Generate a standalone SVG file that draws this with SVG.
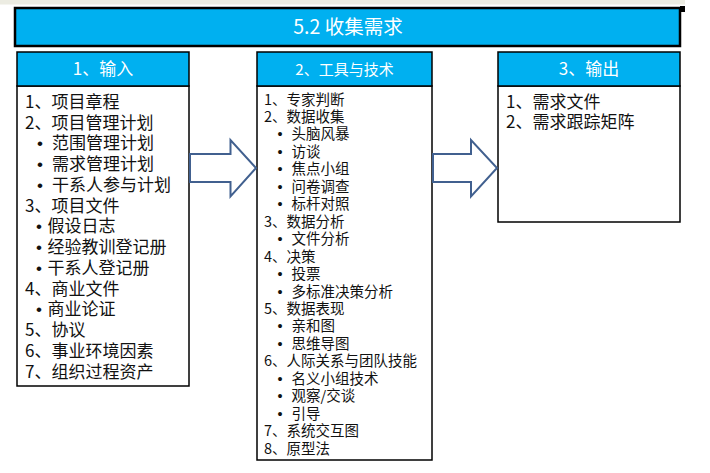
<svg xmlns="http://www.w3.org/2000/svg" width="710" height="473" viewBox="0 0 710 473">
<style>
.hdr{fill:#00B0F0;stroke:#000;stroke-width:1.5}
.body{fill:#fff;stroke:#000;stroke-width:1.5}
.t{font-family:"Noto Sans CJK SC","Microsoft YaHei",sans-serif;fill:#111}
.w{font-family:"Noto Sans CJK SC","Microsoft YaHei",sans-serif;fill:#fff;text-anchor:middle}
.l{font-size:17px}
.s{font-size:14.5px}
.b{font-family:"Liberation Sans",Arial,sans-serif}
.arr{fill:#fff;stroke:#41608F;stroke-width:2;stroke-linejoin:miter}
</style>
<rect x="0" y="0" width="685" height="4.5" fill="#ECECE2"/>
<g id="title">
<rect x="680" y="6" width="5" height="6" fill="#000"/>
<rect x="15" y="8" width="665" height="38" fill="#00B0F0" stroke="#000" stroke-width="2.5"/>
<text class="w" x="348" y="34" style="font-size:19.5px">5.2 收集需求</text>
</g>
<g id="inputs">
<rect class="body" x="17" y="86" width="172" height="300"/>
<rect class="hdr" x="17" y="52" width="172" height="34"/>
<text class="w" x="103" y="75" style="font-size:17px">1、输入</text>
<g class="t l">
<text x="25" y="107.7">1、项目章程</text>
<text x="25" y="128.5">2、项目管理计划</text>
<text y="149.2"><tspan class="b" x="37">•</tspan><tspan x="52">范围管理计划</tspan></text>
<text y="170"><tspan class="b" x="37">•</tspan><tspan x="52">需求管理计划</tspan></text>
<text y="190.8"><tspan class="b" x="37">•</tspan><tspan x="52">干系人参与计划</tspan></text>
<text x="25" y="211.5">3、项目文件</text>
<text y="232.3"><tspan class="b" x="36">•</tspan><tspan x="47.5">假设日志</tspan></text>
<text y="253.1"><tspan class="b" x="36">•</tspan><tspan x="47.5">经验教训登记册</tspan></text>
<text y="273.9"><tspan class="b" x="36">•</tspan><tspan x="47.5">干系人登记册</tspan></text>
<text x="25" y="294.6">4、商业文件</text>
<text y="315.4"><tspan class="b" x="36">•</tspan><tspan x="47.5">商业论证</tspan></text>
<text x="25" y="336.2">5、协议</text>
<text x="25" y="357">6、事业环境因素</text>
<text x="25" y="377.7">7、组织过程资产</text>
</g>
</g>
<g id="tools">
<rect class="body" x="257" y="86" width="175" height="374"/>
<rect class="hdr" x="257" y="52" width="175" height="34"/>
<text class="w" x="344.5" y="74.5" style="font-size:15px">2、工具与技术</text>
<g class="t s">
<text x="264" y="104.5">1、专家判断</text>
<text x="264" y="122">2、数据收集</text>
<text y="139.4"><tspan class="b" x="277.5">•</tspan><tspan x="291.5">头脑风暴</tspan></text>
<text y="156.9"><tspan class="b" x="277.5">•</tspan><tspan x="291.5">访谈</tspan></text>
<text y="174.3"><tspan class="b" x="277.5">•</tspan><tspan x="291.5">焦点小组</tspan></text>
<text y="191.8"><tspan class="b" x="277.5">•</tspan><tspan x="291.5">问卷调查</tspan></text>
<text y="209.2"><tspan class="b" x="277.5">•</tspan><tspan x="291.5">标杆对照</tspan></text>
<text x="264" y="226.7">3、数据分析</text>
<text y="244.1"><tspan class="b" x="277.5">•</tspan><tspan x="291.5">文件分析</tspan></text>
<text x="264" y="261.6">4、决策</text>
<text y="279"><tspan class="b" x="277.5">•</tspan><tspan x="291.5">投票</tspan></text>
<text y="296.5"><tspan class="b" x="277.5">•</tspan><tspan x="291.5">多标准决策分析</tspan></text>
<text x="264" y="313.9">5、数据表现</text>
<text y="331.4"><tspan class="b" x="277.5">•</tspan><tspan x="291.5">亲和图</tspan></text>
<text y="348.8"><tspan class="b" x="277.5">•</tspan><tspan x="291.5">思维导图</tspan></text>
<text x="264" y="366.3">6、人际关系与团队技能</text>
<text y="383.7"><tspan class="b" x="277.5">•</tspan><tspan x="291.5">名义小组技术</tspan></text>
<text y="401.2"><tspan class="b" x="277.5">•</tspan><tspan x="291.5">观察/交谈</tspan></text>
<text y="418.6"><tspan class="b" x="277.5">•</tspan><tspan x="291.5">引导</tspan></text>
<text x="264" y="436.1">7、系统交互图</text>
<text x="264" y="453.5">8、原型法</text>
</g>
</g>
<g id="outputs">
<rect class="body" x="498" y="86" width="182" height="136"/>
<rect class="hdr" x="498" y="52" width="182" height="34"/>
<text class="w" x="589" y="75" style="font-size:17px">3、输出</text>
<g class="t l">
<text x="506" y="107.7">1、需求文件</text>
<text x="506" y="127.7">2、需求跟踪矩阵</text>
</g>
</g>
<g id="connectors">
<polygon class="arr" points="190,154 230.5,154 230.5,140 256,168 230.5,196.5 230.5,182 190,182"/>
<polygon class="arr" points="433,154 471,154 471,140 497,168 471,196.5 471,182 433,182"/>
</g>
</svg>
